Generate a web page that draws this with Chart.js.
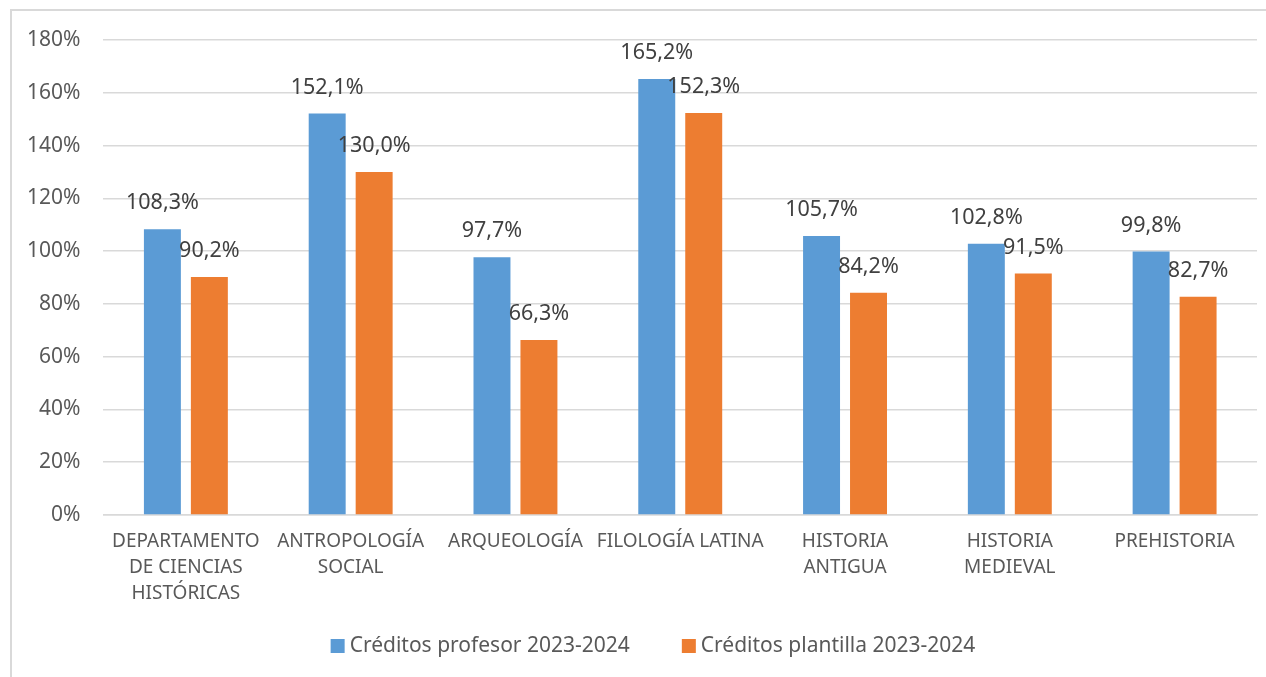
<!DOCTYPE html>
<html>
<head>
<meta charset="utf-8">
<script src="https://cdn.jsdelivr.net/npm/chart.js@4.4.1/dist/chart.umd.min.js"></script>
<style>
    html, body { margin: 0; padding: 0; background: #fff; }
    body { width: 1266px; height: 677px; overflow: hidden; position: relative; }
    .marco {
        position: absolute; left: 10px; top: 9px;
        width: 1300px; height: 700px;
        border: 2px solid #d9d9d9; box-sizing: border-box;
    }
    .grafico { position: absolute; left: 0; top: 0; width: 1266px; height: 677px; }
</style>
</head>
<body>
<div class="marco"></div>
<div class="grafico"><canvas id="creditosChart"></canvas></div>
<script>
// Datos
const categorias = [
    ["DEPARTAMENTO", "DE CIENCIAS", "HISTÓRICAS"],
    ["ANTROPOLOGÍA", "SOCIAL"],
    ["ARQUEOLOGÍA"],
    ["FILOLOGÍA LATINA"],
    ["HISTORIA", "ANTIGUA"],
    ["HISTORIA", "MEDIEVAL"],
    ["PREHISTORIA"],
];
const creditosProfesor = [108.3, 152.1, 97.7, 165.2, 105.7, 102.8, 99.8];
const creditosPlantilla = [90.2, 130.0, 66.3, 152.3, 84.2, 91.5, 82.7];
const nombresSeries = ["Créditos profesor 2023-2024", "Créditos plantilla 2023-2024"];
const ticksY = [0, 20, 40, 60, 80, 100, 120, 140, 160, 180];

const FUENTE = "'Noto Sans', 'Open Sans', sans-serif";

// Etiquetas de valor encima de cada barra
const etiquetasPlugin = {
    id: "etiquetas",
    afterDatasetsDraw(chart) {
        const ctx = chart.ctx;
        ctx.save();
        ctx.font = "21.5px " + FUENTE;
        ctx.fillStyle = "#404040";
        ctx.textAlign = "center";
        ctx.textBaseline = "middle";
        chart.data.datasets.forEach((ds, i) => {
            const meta = chart.getDatasetMeta(i);
            meta.data.forEach((bar, j) => {
                const texto = ds.data[j].toFixed(1).replace(".", ",") + "%";
                ctx.fillText(texto, bar.x, bar.y - 26);
            });
        });
        ctx.restore();
    },
};

// Leyenda dibujada a mano (separación como en Excel)
const leyendaPlugin = {
    id: "leyendaExcel",
    afterDraw(chart) {
        const ctx = chart.ctx;
        const y = 646;
        const caja = 14;
        const hueco = 5;
        const separacion = 52;
        const centro = 653;
        ctx.save();
        ctx.font = "21px " + FUENTE;
        ctx.textBaseline = "middle";
        const anchos = chart.data.datasets.map((ds) => caja + hueco + ctx.measureText(ds.label).width);
        const total = anchos.reduce((a, b) => a + b, 0) + separacion * (anchos.length - 1);
        let x = centro - total / 2;
        chart.data.datasets.forEach((ds, i) => {
            ctx.fillStyle = ds.backgroundColor;
            ctx.fillRect(x, y - caja / 2, caja, caja);
            ctx.fillStyle = "#595959";
            ctx.fillText(ds.label, x + caja + hueco, y);
            x += anchos[i] + separacion;
        });
        ctx.restore();
    },
};

new Chart(document.getElementById("creditosChart"), {
    type: "bar",
    data: {
        labels: categorias,
        datasets: [
            {
                label: nombresSeries[0],
                data: creditosProfesor,
                backgroundColor: "#5B9BD5",
                categoryPercentage: 0.57,
                barPercentage: 0.787,
            },
            {
                label: nombresSeries[1],
                data: creditosPlantilla,
                backgroundColor: "#ED7D31",
                categoryPercentage: 0.57,
                barPercentage: 0.787,
            },
        ],
    },
    options: {
        responsive: true,
        maintainAspectRatio: false,
        animation: false,
        layout: {
            padding: { left: 4, right: 9, top: 40, bottom: 56 },
        },
        plugins: {
            legend: { display: false },
            tooltip: { enabled: false },
        },
        scales: {
            y: {
                min: 0,
                max: 180,
                afterBuildTicks: (axis) => {
                    axis.ticks = ticksY.map((v) => ({ value: v }));
                },
                ticks: {
                    padding: 23,
                    color: "#595959",
                    font: { family: FUENTE, size: 21 },
                    callback: (v) => v + "%",
                },
                grid: { color: "#d9d9d9", lineWidth: 1.5, drawTicks: false, tickLength: 0 },
                border: { display: false },
            },
            x: {
                afterFit: (scale) => {
                    scale.paddingLeft = 0;
                    scale.paddingRight = 0;
                },
                ticks: {
                    padding: 14,
                    color: "#595959",
                    font: { family: FUENTE, size: 19, lineHeight: 1.37 },
                    maxRotation: 0,
                    autoSkip: false,
                },
                grid: { display: false, drawTicks: false, tickLength: 0 },
                border: { color: "#d9d9d9", width: 1.5 },
            },
        },
    },
    plugins: [etiquetasPlugin, leyendaPlugin],
});
</script>
</body>
</html>
